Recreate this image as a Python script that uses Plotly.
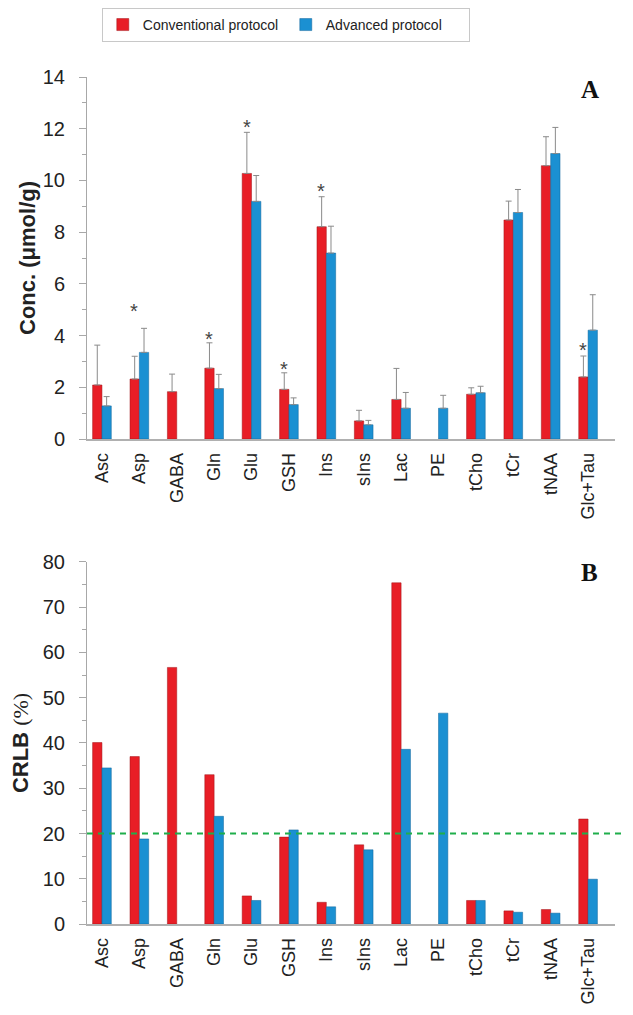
import plotly.graph_objects as go
from plotly.subplots import make_subplots

categories = ["Asc", "Asp", "GABA", "Gln", "Glu", "GSH", "Ins", "sIns", "Lac", "PE", "tCho", "tCr", "tNAA", "Glc+Tau"]

conc_conv = [2.09, 2.32, 1.83, 2.74, 10.27, 1.92, 8.21, 0.70, 1.53, None, 1.73, 8.47, 10.57, 2.40]
conc_conv_err = [1.54, 0.88, 0.68, 0.98, 1.59, 0.64, 1.16, 0.41, 1.20, None, 0.25, 0.73, 1.12, 0.81]
conc_adv = [1.28, 3.35, None, 1.95, 9.19, 1.33, 7.19, 0.55, 1.19, 1.19, 1.79, 8.76, 11.04, 4.21]
conc_adv_err = [0.36, 0.93, None, 0.55, 1.00, 0.26, 1.04, 0.17, 0.61, 0.50, 0.25, 0.89, 1.01, 1.37]

crlb_conv = [40.1, 37.0, 56.7, 33.0, 6.2, 19.2, 4.8, 17.5, 75.4, None, 5.2, 2.9, 3.2, 23.2]
crlb_adv = [34.5, 18.8, None, 23.8, 5.2, 20.8, 3.8, 16.4, 38.6, 46.6, 5.2, 2.6, 2.4, 9.9]

star_cats = ["Asp", "Gln", "Glu", "GSH", "Ins", "Glc+Tau"]
star_y = [5.05, 3.98, 12.2, 2.84, 9.69, 3.54]

crlb_threshold = 20

RED = "#e81e26"
BLUE = "#1b90d2"

fig = make_subplots(rows=2, cols=1, vertical_spacing=0.1452)

def err_arr(v):
    return [0 if e is None else e for e in v]

fig.add_trace(go.Bar(x=categories, y=conc_conv, name="Conventional protocol",
                     marker=dict(color=RED, line=dict(color="#a01418", width=0.5)),
                     error_y=dict(type="data", symmetric=False, array=err_arr(conc_conv_err),
                                  arrayminus=[0]*len(categories), color="#8a8a8a",
                                  thickness=1, width=3)), row=1, col=1)
fig.add_trace(go.Bar(x=categories, y=conc_adv, name="Advanced protocol",
                     marker=dict(color=BLUE, line=dict(color="#10649a", width=0.5)),
                     error_y=dict(type="data", symmetric=False, array=err_arr(conc_adv_err),
                                  arrayminus=[0]*len(categories), color="#8a8a8a",
                                  thickness=1, width=3)), row=1, col=1)
fig.add_trace(go.Bar(x=categories, y=crlb_conv, name="Conventional protocol", showlegend=False,
                     marker=dict(color=RED, line=dict(color="#a01418", width=0.5))), row=2, col=1)
fig.add_trace(go.Bar(x=categories, y=crlb_adv, name="Advanced protocol", showlegend=False,
                     marker=dict(color=BLUE, line=dict(color="#10649a", width=0.5))), row=2, col=1)

for c, yv in zip(star_cats, star_y):
    fig.add_annotation(x=c, y=yv, xref="x", yref="y", text="*", showarrow=False,
                       xshift=-5, yshift=-3, font=dict(size=20, color="#444444",
                       family="Liberation Sans, Arial, sans-serif"))

fig.add_shape(type="line", xref="x2 domain", yref="y2", x0=0, x1=1.017,
              y0=crlb_threshold, y1=crlb_threshold,
              line=dict(color="#1fae4b", width=2, dash="6px,5px"))

fig.add_annotation(xref="paper", yref="paper", x=0.9527, y=0.9847, text="<b>A</b>",
                   xanchor="center", yanchor="middle", showarrow=False,
                   font=dict(size=25, family="Liberation Serif, Times New Roman, serif", color="#111"))
fig.add_annotation(xref="paper", yref="paper", x=0.951, y=0.415, text="<b>B</b>",
                   xanchor="center", yanchor="middle", showarrow=False,
                   font=dict(size=25, family="Liberation Serif, Times New Roman, serif", color="#111"))

xcommon = dict(range=[-0.4, 13.72], showline=True, linecolor="#b0b0b0", linewidth=1.5,
               ticks="", tickangle=-90, tickfont=dict(size=18, color="#222"),
               showgrid=False, zeroline=False, ticklabelstandoff=5)
fig.update_xaxes(**xcommon, row=1, col=1)
fig.update_xaxes(**xcommon, row=2, col=1)

ycommon = dict(showline=True, linecolor="#a8a8a8", linewidth=1, ticks="outside", ticklen=7,
               tickcolor="#a8a8a8", tickfont=dict(size=20, color="#222"), showgrid=False,
               zeroline=False, ticklabelstandoff=10)
fig.update_yaxes(**ycommon, range=[0, 14], dtick=2,
                 minor=dict(dtick=1, ticks="outside", ticklen=4, tickcolor="#a8a8a8"),
                 title=dict(text="<b>Conc. (μmol/g)</b>", font=dict(size=22, color="#222"), standoff=1),
                 row=1, col=1)
fig.update_yaxes(**ycommon, range=[0, 80], dtick=10,
                 minor=dict(dtick=5, ticks="outside", ticklen=4, tickcolor="#a8a8a8"),
                 title=dict(text="<b>CRLB</b> <span style='font-family:Liberation Serif, Times New Roman, serif'>(%)</span>",
                            font=dict(size=22, color="#222"), standoff=10),
                 row=2, col=1)

fig.update_layout(
    width=633, height=1015,
    margin=dict(l=79, r=26, t=69, b=99, autoexpand=False),
    paper_bgcolor="white", plot_bgcolor="white",
    barmode="group", bargap=0.5, bargroupgap=0,
    font=dict(family="Liberation Sans, Arial, sans-serif", color="#222"),
    legend=dict(orientation="h", x=0.028, xanchor="left", y=1.0815, yanchor="top",
                bordercolor="#c8c8c8", borderwidth=1, font=dict(size=14, color="#222"),
                entrywidth=138, tracegroupgap=0),
    showlegend=True,
)

fig.write_html("out.html")
